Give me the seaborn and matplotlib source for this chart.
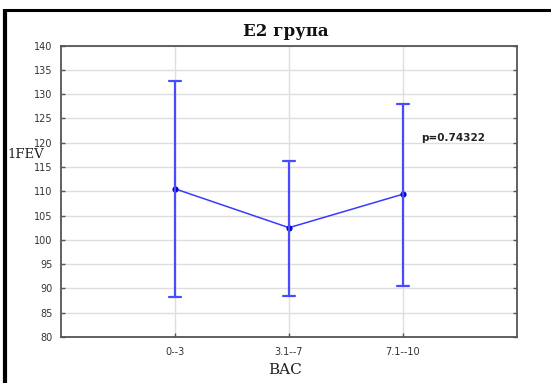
import numpy as np
import pandas as pd
import seaborn as sns
import matplotlib
matplotlib.use("Agg")
import matplotlib.pyplot as plt
from matplotlib.lines import Line2D

# ---- data ----
categories = ["0--3", "3.1--7", "7.1--10"]
means = [110.5, 102.5, 109.4]
lower = [88.3, 88.5, 90.6]
upper = [132.6, 116.2, 128.0]
y_ticks = list(range(80, 145, 5))
title = "E2 група"
xlabel = "BAC"
ylabel = "1FEV"
p_text = "p=0.74322"

# long-form table: each category holds lower / mean / upper
rows = []
for c, lo, m, hi in zip(categories, lower, means, upper):
    for v in (lo, m, hi):
        rows.append({"cat": c, "val": v})
df = pd.DataFrame(rows)

sns.set_theme(style="white")
plt.rcParams["font.family"] = ["DejaVu Sans"]

fig = plt.figure(figsize=(5.51, 3.83), dpi=100)
ax = fig.add_axes([61 / 551, 46 / 383, 456 / 551, 291.5 / 383])

sns.pointplot(
    data=df, x="cat", y="val", order=categories,
    estimator="median", errorbar=lambda v: (v.min(), v.max()),
    color="#3a3aff", capsize=0.105, markers="o", markersize=3.6,
    linewidth=1.1, err_kws={"linewidth": 1.6, "color": "#4a4aff"},
    ax=ax,
)
for ln in ax.lines:
    if ln.get_marker() == "o":
        ln.set_markerfacecolor("#0000d0")
        ln.set_markeredgecolor("#0000d0")

ax.set_xlim(-1, 3)
ax.set_ylim(80, 140)
ax.set_yticks(y_ticks)
ax.set_yticklabels([str(t) for t in y_ticks])
ax.set_xticks(range(len(categories)))
ax.set_xticklabels(categories)

ax.grid(True, color="#dedede", linewidth=1.0)
ax.set_axisbelow(True)

for s in ax.spines.values():
    s.set_color("#555555")
    s.set_linewidth(1.3)

ax.tick_params(axis="y", which="both", left=True, right=True, direction="in",
               length=3, width=1, color="#555555", labelsize=7, labelcolor="#333333", pad=6)
ax.tick_params(axis="x", bottom=True, direction="in", length=3, width=1,
               color="#555555", labelsize=7, labelcolor="#333333", pad=7)

ax.set_xlabel("")
ax.set_ylabel("")
fig.text(285 / 551, 1 - 370 / 383, xlabel, family="DejaVu Serif", fontsize=11,
         ha="center", va="center", color="#222222")
fig.text(7 / 551, 1 - 155 / 383, ylabel, family="DejaVu Serif", fontsize=9.5,
         ha="left", va="center", color="#222222")
fig.text(286 / 551, 1 - 31 / 383, title, family="DejaVu Serif", fontweight="bold",
         fontsize=12, ha="center", va="center", color="#111111")

ax.text(2.44, 121.0, p_text, fontsize=7.5, fontweight="bold", ha="center",
        va="center", color="#222222")

# outer frame (top and left edges)
fig.add_artist(Line2D([4.5 / 551, 1.0], [1 - 10 / 383, 1 - 10 / 383],
                      transform=fig.transFigure, color="black", linewidth=2.2,
                      solid_capstyle="butt"))
fig.add_artist(Line2D([4.5 / 551, 4.5 / 551], [0.0, 1 - 9 / 383],
                      transform=fig.transFigure, color="black", linewidth=3.0,
                      solid_capstyle="butt"))

fig.savefig("out.png", dpi=100)
